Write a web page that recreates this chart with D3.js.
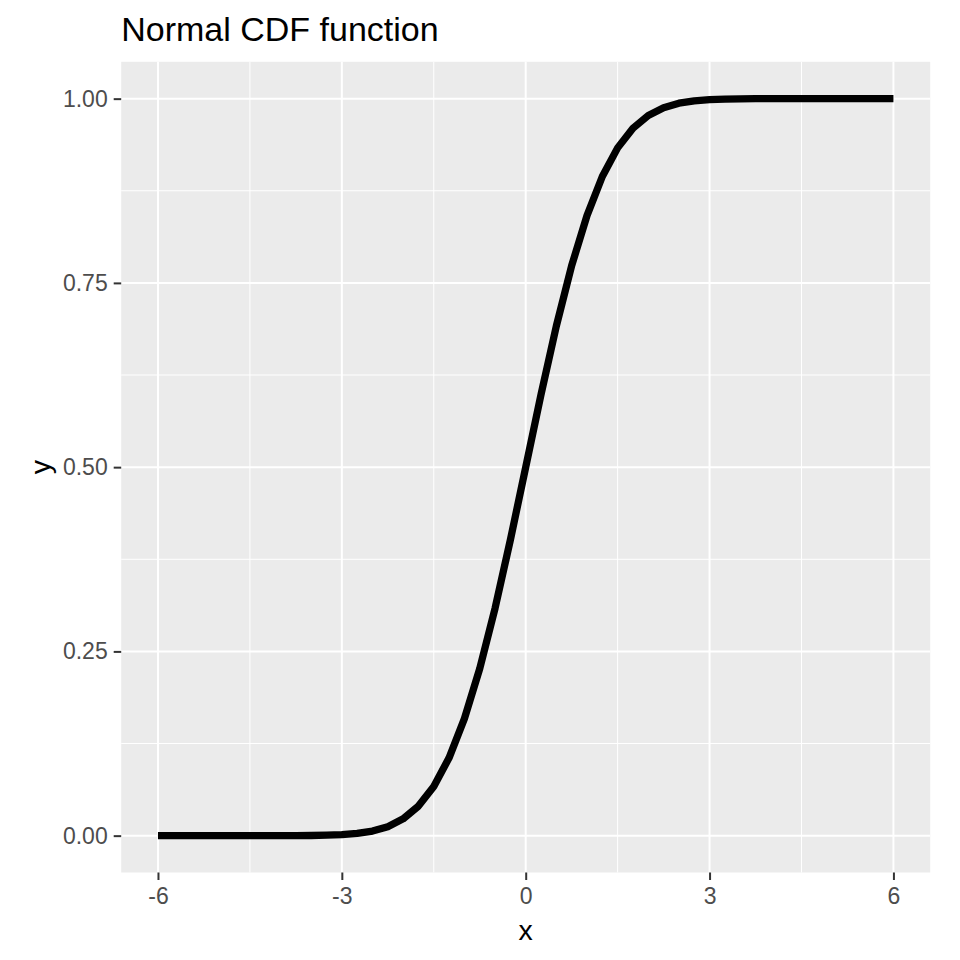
<!DOCTYPE html>
<html>
<head>
<meta charset="utf-8">
<script src="https://cdn.jsdelivr.net/npm/d3@7"></script>
<style>
  body { margin: 0; background: #fff; }
  text { font-family: "Liberation Sans", Arial, sans-serif; }
</style>
</head>
<body>
<div id="chart"></div>
<script>
// values, x from -6 to 6 in steps of 0.25
const xValues = [
  -6, -5.75, -5.5, -5.25, -5, -4.75, -4.5, -4.25, -4, -3.75, -3.5, -3.25,
  -3, -2.75, -2.5, -2.25, -2, -1.75, -1.5, -1.25, -1, -0.75, -0.5, -0.25,
  0, 0.25, 0.5, 0.75, 1, 1.25, 1.5, 1.75, 2, 2.25, 2.5, 2.75,
  3, 3.25, 3.5, 3.75, 4, 4.25, 4.5, 4.75, 5, 5.25, 5.5, 5.75, 6
];
const yValues = [
  0, 0, 0, 0, 0, 0, 0, 0, 0, 0.0001, 0.0002, 0.0006,
  0.0013, 0.003, 0.0062, 0.0122, 0.0228, 0.0401, 0.0668, 0.1056, 0.1587, 0.2266, 0.3085, 0.4013,
  0.5, 0.5987, 0.6915, 0.7734, 0.8413, 0.8944, 0.9332, 0.9599, 0.9772, 0.9878, 0.9938, 0.997,
  0.9987, 0.9994, 0.9998, 0.9999, 1, 1, 1, 1, 1, 1, 1, 1, 1
];
const xTicks = [-6, -3, 0, 3, 6];
const xMinor = [-4.5, -1.5, 1.5, 4.5];
const yTicks = [0, 0.25, 0.5, 0.75, 1];
const yMinor = [0.125, 0.375, 0.625, 0.875];

const width = 960, height = 960;
const panel = { left: 121.2, right: 930.2, top: 61.8, bottom: 872.5 };

const svg = d3.select("#chart").append("svg")
  .attr("width", width)
  .attr("height", height);

// ggplot style 5% expansion
const x = d3.scaleLinear().domain([-6.6, 6.6]).range([panel.left, panel.right]);
const y = d3.scaleLinear().domain([-0.05, 1.05]).range([panel.bottom, panel.top]);

svg.append("rect")
  .attr("x", panel.left).attr("y", panel.top)
  .attr("width", panel.right - panel.left)
  .attr("height", panel.bottom - panel.top)
  .attr("fill", "#EBEBEB");

const grid = svg.append("g");
grid.selectAll(".xminor").data(xMinor).enter().append("line")
  .attr("x1", d => x(d)).attr("x2", d => x(d))
  .attr("y1", panel.top).attr("y2", panel.bottom)
  .attr("stroke", "#fff").attr("stroke-width", 1);
grid.selectAll(".yminor").data(yMinor).enter().append("line")
  .attr("y1", d => y(d)).attr("y2", d => y(d))
  .attr("x1", panel.left).attr("x2", panel.right)
  .attr("stroke", "#fff").attr("stroke-width", 1);
grid.selectAll(".xmajor").data(xTicks).enter().append("line")
  .attr("x1", d => x(d)).attr("x2", d => x(d))
  .attr("y1", panel.top).attr("y2", panel.bottom)
  .attr("stroke", "#fff").attr("stroke-width", 2);
grid.selectAll(".ymajor").data(yTicks).enter().append("line")
  .attr("y1", d => y(d)).attr("y2", d => y(d))
  .attr("x1", panel.left).attr("x2", panel.right)
  .attr("stroke", "#fff").attr("stroke-width", 2);

const points = xValues.map((v, i) => [v, yValues[i]]);
const line = d3.line().x(d => x(d[0])).y(d => y(d[1]));
svg.append("path")
  .datum(points)
  .attr("d", line)
  .attr("fill", "none")
  .attr("stroke", "#000")
  .attr("stroke-width", 7.3)
  .attr("stroke-linejoin", "round")
  .attr("stroke-linecap", "butt");

// axes
const xAxis = d3.axisBottom(x).tickValues(xTicks).tickSize(7.5).tickPadding(7.5)
  .tickFormat(d => String(d));
const gx = svg.append("g")
  .attr("transform", `translate(0,${panel.bottom})`)
  .call(xAxis);
gx.select(".domain").remove();
gx.selectAll(".tick line").attr("stroke", "#333").attr("stroke-width", 2);
gx.selectAll(".tick text").attr("fill", "#4D4D4D").style("font-size", "23px");

const yAxis = d3.axisLeft(y).tickValues(yTicks).tickSize(7.5).tickPadding(6)
  .tickFormat(d3.format(".2f"));
const gy = svg.append("g")
  .attr("transform", `translate(${panel.left},0)`)
  .call(yAxis);
gy.select(".domain").remove();
gy.selectAll(".tick line").attr("stroke", "#333").attr("stroke-width", 2);
gy.selectAll(".tick text").attr("fill", "#4D4D4D").style("font-size", "23px");

svg.append("text")
  .attr("x", (panel.left + panel.right) / 2)
  .attr("y", 940)
  .attr("text-anchor", "middle")
  .style("font-size", "28.5px")
  .text("x");

svg.append("text")
  .attr("transform", `translate(50,${(panel.top + panel.bottom) / 2}) rotate(-90)`)
  .attr("text-anchor", "middle")
  .style("font-size", "28.5px")
  .text("y");

svg.append("text")
  .attr("x", panel.left)
  .attr("y", 40.7)
  .style("font-size", "34px")
  .text("Normal CDF function");
</script>
</body>
</html>
